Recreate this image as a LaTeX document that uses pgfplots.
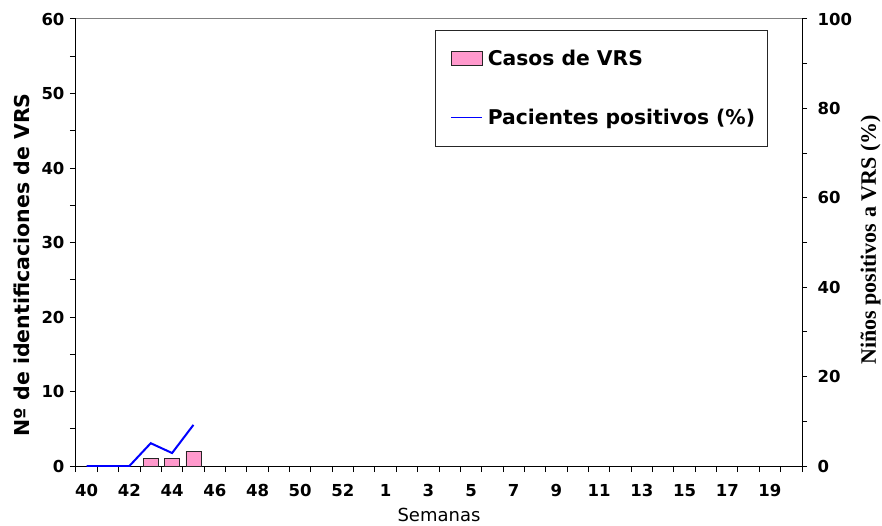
\documentclass[border=0pt]{standalone}
\usepackage{pgfplots}
\pgfplotsset{compat=1.18}
\usepackage{fontspec}
\setmainfont{DejaVu Sans}
\newfontfamily\timesfont{Liberation Serif}
\definecolor{barpink}{RGB}{255,153,204}
\definecolor{lineblue}{RGB}{0,0,255}
\pgfplotsset{
  boxlegend/.style={legend image code/.code={\path (0pt,0pt); \draw[##1] (5pt,-7pt) rectangle (36pt,7pt);}},
  linelegend/.style={legend image code/.code={\path (0pt,0pt); \draw[##1] (5pt,0pt) -- (36pt,0pt);}},
}
\begin{document}
\begin{tikzpicture}
\path[use as bounding box] (-76pt,-59pt) rectangle (806pt,466pt);
\begin{axis}[
  at={(0pt,0pt)}, anchor=south west,
  scale only axis, width=726pt, height=447pt,
  xmin=-0.5, xmax=33.5, ymin=0, ymax=60,
  axis x line*=bottom, axis y line*=left,
  axis line style={line width=1pt, black},
  every tick/.style={line width=1pt, black},
  tick align=outside,
  major tick length=6pt, minor tick length=6pt,
  /pgf/number format/assume math mode=true,
  ytick={0,10,...,60}, minor ytick={5,15,...,55},
  xtick={-0.5,0.5,...,33.5},
  xticklabels={40,,42,,44,,46,,48,,50,,52,,1,,3,,5,,7,,9,,11,,13,,15,,17,,19,,},
  x tick label style={xshift=10.676pt, yshift=-9pt, font=\bfseries\fontsize{16.5}{19}\selectfont},
  y tick label style={xshift=-2pt, font=\bfseries\fontsize{16.5}{19}\selectfont},
  xlabel={Semanas},
  xlabel style={at={(axis description cs:0.5,0)}, anchor=base, yshift=-55pt, font=\fontsize{18}{21}\selectfont},
  ylabel={Nº de identificaciones de VRS},
  ylabel style={at={(axis description cs:-0.0744,0.45)}, anchor=center, font=\bfseries\fontsize{20.5}{24}\selectfont},
]
\addplot[ybar, bar width=15pt, fill=barpink, draw=black!85, line width=0.8pt] coordinates {(3,1) (4,1) (5,2)};
\end{axis}
\begin{axis}[
  at={(0pt,0pt)}, anchor=south west,
  scale only axis, width=726pt, height=447pt,
  xmin=-0.5, xmax=33.5, ymin=0, ymax=100,
  axis y line*=right, axis x line*=top,
  y axis line style={line width=1pt, black},
  x axis line style={line width=1pt, gray},
  every tick/.style={line width=1pt, black},
  tick align=outside,
  major tick length=5pt, minor tick length=5pt,
  /pgf/number format/assume math mode=true,
  xtick=\empty,
  ytick={0,20,...,100}, minor ytick={10,30,...,90},
  y tick label style={xshift=7pt, font=\bfseries\fontsize{16.5}{19}\selectfont},
  ylabel={\timesfont\bfseries Niños positivos a VRS (\%)},
  ylabel style={at={(axis description cs:1.0943,0.5056)}, anchor=center, rotate=0, font=\fontsize{22}{26}\selectfont},
  legend style={at={(axis description cs:0.4945,0.9754)}, anchor=north west,
    draw=black!85, line width=0.8pt, inner xsep=10pt, inner ysep=18pt,
    row sep=38pt, font=\bfseries\fontsize{20.3}{24}\selectfont,
    /tikz/every odd column/.append style={column sep=3pt}},
  legend cell align=left,
]
\addlegendimage{fill=barpink, draw=black!85, line width=0.8pt, boxlegend}
\addlegendentry{Casos de VRS}
\addlegendimage{draw=lineblue, line width=1.4pt, linelegend}
\addlegendentry{Pacientes positivos (\%)}
\addplot[lineblue, line width=2pt, forget plot]
  coordinates {(0,0) (1,0) (2,0) (3,5.1) (4,2.9) (5,9.2)};
\end{axis}
\end{tikzpicture}
\end{document}
